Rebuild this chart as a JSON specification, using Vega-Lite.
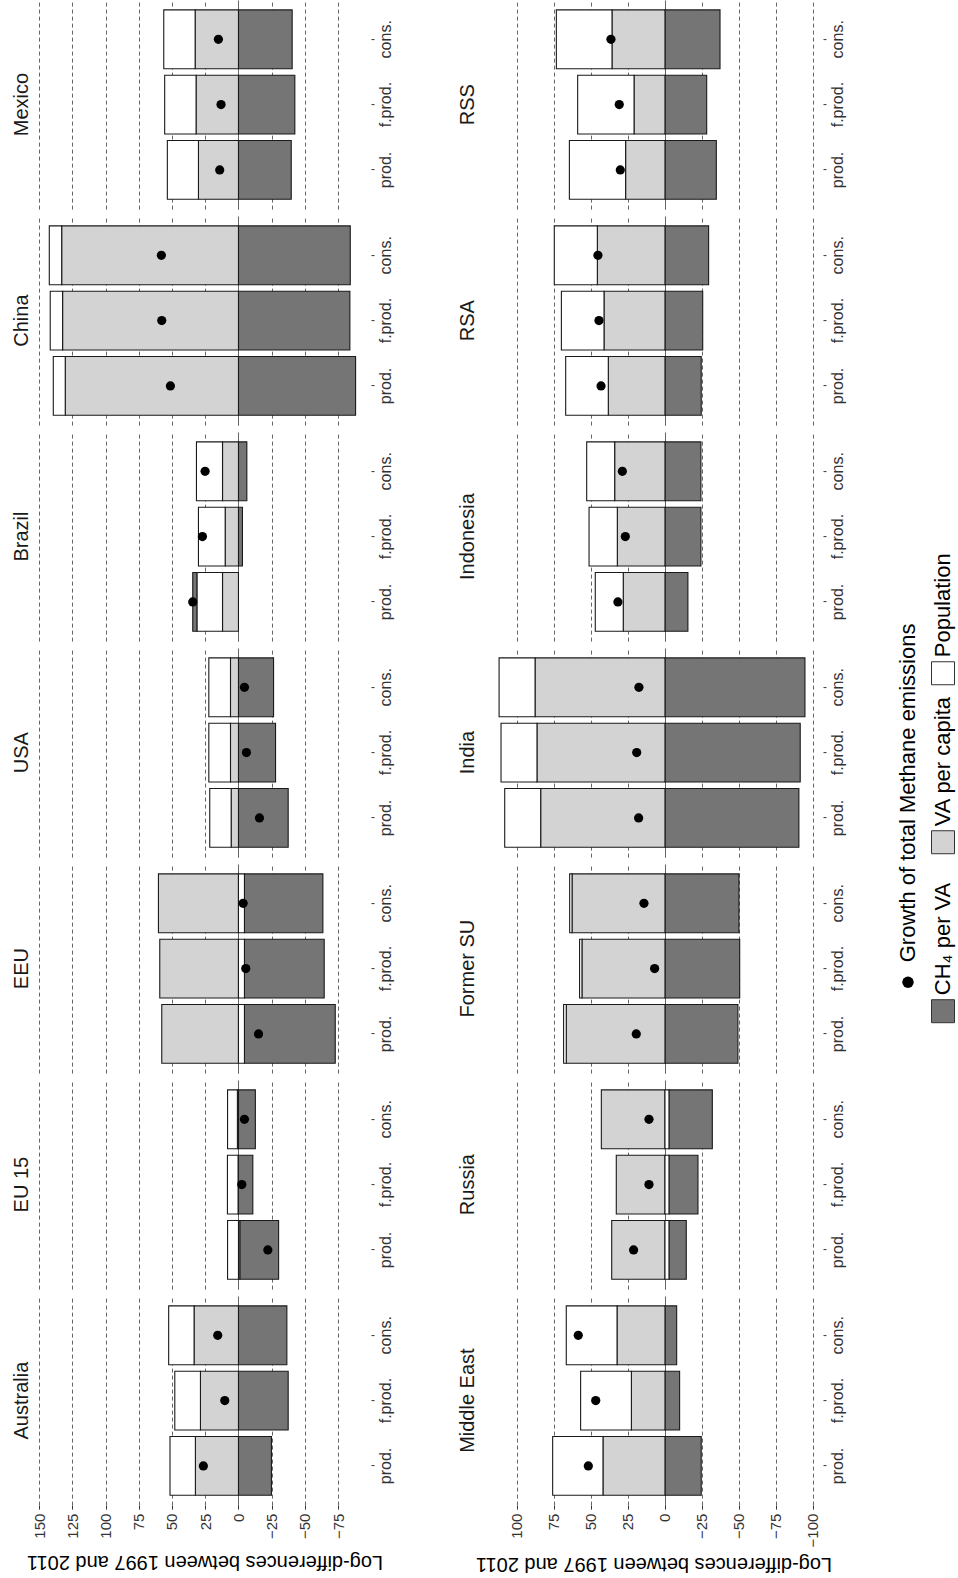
{
  "$schema": "https://vega.github.io/schema/vega-lite/v6.json",
  "background": "white",
  "padding": {"left": 11, "top": 0, "right": 0, "bottom": 3},
  "config": {
    "font": "Liberation Sans",
    "view": {"stroke": null},
    "axis": {"domain": false, "labelColor": "#333333", "tickColor": "#333333", "titleColor": "#000000", "titleFontWeight": "normal", "labelOverlap": false}
  },
  "datasets": {
    "top": [
      {"region": "Mexico", "measure": "prod.", "ch4": -39.7, "vacap": 30.1, "pop": 23.4, "growth": 14.1},
      {"region": "Mexico", "measure": "f.prod.", "ch4": -42.4, "vacap": 31.9, "pop": 23.6, "growth": 13.1},
      {"region": "Mexico", "measure": "cons.", "ch4": -40.4, "vacap": 32.6, "pop": 23.6, "growth": 15.1},
      {"region": "China", "measure": "prod.", "ch4": -88.1, "vacap": 130.3, "pop": 9.0, "growth": 51.2},
      {"region": "China", "measure": "f.prod.", "ch4": -83.8, "vacap": 132.3, "pop": 9.3, "growth": 57.7},
      {"region": "China", "measure": "cons.", "ch4": -84.1, "vacap": 133.0, "pop": 9.3, "growth": 58.0},
      {"region": "Brazil", "measure": "prod.", "ch4": 3.3, "vacap": 12.0, "pop": 19.1, "growth": 34.4},
      {"region": "Brazil", "measure": "f.prod.", "ch4": -3.0, "vacap": 10.0, "pop": 20.1, "growth": 27.1},
      {"region": "Brazil", "measure": "cons.", "ch4": -6.3, "vacap": 12.0, "pop": 19.6, "growth": 25.1},
      {"region": "USA", "measure": "prod.", "ch4": -37.4, "vacap": 5.5, "pop": 16.1, "growth": -15.8},
      {"region": "USA", "measure": "f.prod.", "ch4": -27.9, "vacap": 6.0, "pop": 16.3, "growth": -6.0},
      {"region": "USA", "measure": "cons.", "ch4": -26.4, "vacap": 6.0, "pop": 16.3, "growth": -4.5},
      {"region": "EEU", "measure": "prod.", "ch4": -68.3, "vacap": 57.7, "pop": -4.5, "growth": -15.1},
      {"region": "EEU", "measure": "f.prod.", "ch4": -60.0, "vacap": 59.2, "pop": -4.5, "growth": -5.5},
      {"region": "EEU", "measure": "cons.", "ch4": -59.0, "vacap": 60.2, "pop": -4.5, "growth": -3.5},
      {"region": "EU 15", "measure": "prod.", "ch4": -29.2, "vacap": -1.0, "pop": 8.2, "growth": -22.1},
      {"region": "EU 15", "measure": "f.prod.", "ch4": -10.8, "vacap": 0.3, "pop": 8.0, "growth": -2.5},
      {"region": "EU 15", "measure": "cons.", "ch4": -12.7, "vacap": 0.8, "pop": 7.4, "growth": -4.5},
      {"region": "Australia", "measure": "prod.", "ch4": -24.8, "vacap": 32.4, "pop": 19.1, "growth": 26.4},
      {"region": "Australia", "measure": "f.prod.", "ch4": -37.4, "vacap": 28.6, "pop": 19.3, "growth": 10.3},
      {"region": "Australia", "measure": "cons.", "ch4": -36.4, "vacap": 33.4, "pop": 19.1, "growth": 15.6}
    ],
    "bottom": [
      {"region": "RSS", "measure": "prod.", "ch4": -34.7, "vacap": 26.6, "pop": 38.0, "growth": 30.2},
      {"region": "RSS", "measure": "f.prod.", "ch4": -28.2, "vacap": 20.9, "pop": 38.1, "growth": 30.9},
      {"region": "RSS", "measure": "cons.", "ch4": -37.2, "vacap": 35.8, "pop": 37.6, "growth": 36.5},
      {"region": "RSA", "measure": "prod.", "ch4": -24.5, "vacap": 38.3, "pop": 28.8, "growth": 43.2},
      {"region": "RSA", "measure": "f.prod.", "ch4": -25.5, "vacap": 41.2, "pop": 28.8, "growth": 44.6},
      {"region": "RSA", "measure": "cons.", "ch4": -29.5, "vacap": 45.7, "pop": 29.1, "growth": 45.3},
      {"region": "Indonesia", "measure": "prod.", "ch4": -15.5, "vacap": 28.2, "pop": 18.9, "growth": 31.8},
      {"region": "Indonesia", "measure": "f.prod.", "ch4": -24.3, "vacap": 32.2, "pop": 19.1, "growth": 26.8},
      {"region": "Indonesia", "measure": "cons.", "ch4": -24.3, "vacap": 34.0, "pop": 18.9, "growth": 28.8},
      {"region": "India", "measure": "prod.", "ch4": -90.5, "vacap": 84.0, "pop": 24.3, "growth": 17.8},
      {"region": "India", "measure": "f.prod.", "ch4": -91.4, "vacap": 86.5, "pop": 24.3, "growth": 19.1},
      {"region": "India", "measure": "cons.", "ch4": -94.6, "vacap": 87.8, "pop": 24.3, "growth": 17.6},
      {"region": "Former SU", "measure": "prod.", "ch4": -49.3, "vacap": 66.7, "pop": 1.8, "growth": 19.4},
      {"region": "Former SU", "measure": "f.prod.", "ch4": -50.5, "vacap": 56.1, "pop": 1.6, "growth": 7.0},
      {"region": "Former SU", "measure": "cons.", "ch4": -50.0, "vacap": 62.8, "pop": 1.6, "growth": 14.2},
      {"region": "Russia", "measure": "prod.", "ch4": -11.7, "vacap": 36.0, "pop": -2.7, "growth": 21.2},
      {"region": "Russia", "measure": "f.prod.", "ch4": -19.6, "vacap": 32.9, "pop": -2.7, "growth": 10.8},
      {"region": "Russia", "measure": "cons.", "ch4": -29.3, "vacap": 43.0, "pop": -2.7, "growth": 10.8},
      {"region": "Middle East", "measure": "prod.", "ch4": -24.5, "vacap": 41.9, "pop": 34.0, "growth": 51.8},
      {"region": "Middle East", "measure": "f.prod.", "ch4": -9.9, "vacap": 22.7, "pop": 34.3, "growth": 46.8},
      {"region": "Middle East", "measure": "cons.", "ch4": -7.9, "vacap": 32.4, "pop": 34.3, "growth": 58.6}
    ],
    "legend": [
      {"line": "1", "component": "growth", "label": "Growth of total Methane emissions"},
      {"line": "2", "component": "ch4", "label": "CH₄ per VA"},
      {"line": "2", "component": "vacap", "label": "VA per capita"},
      {"line": "2", "component": "pop", "label": "Population"}
    ]
  },
  "spacing": 49,
  "center": true,
  "hconcat": [
    {
      "spacing": 64,
      "hconcat": [
        {
          "data": {"name": "top"},
          "facet": {
            "row": {
              "field": "region", "type": "nominal",
              "sort": ["Mexico", "China", "Brazil", "USA", "EEU", "EU 15", "Australia"],
              "title": null,
              "header": {"labelAngle": 270, "labelOrient": "left", "labelFontSize": 20, "labelPadding": -14, "labelColor": "#1a1a1a"}
            }
          },
          "spacing": {"row": 7},
          "spec": {
            "width": 333,
            "height": 209,
            "encoding": {
              "x": {
                "field": "value", "type": "quantitative",
                "scale": {"domain": [-99.7, 150.8], "reverse": true, "nice": false, "zero": false},
                "axis": {
                  "values": [-75, -50, -25, 0, 25, 50, 75, 100, 125, 150],
                  "title": "Log-differences between 1997 and 2011",
                  "labelAngle": 270, "labelAlign": "right", "labelBaseline": "middle",
                  "labelFontSize": 15, "labelPadding": 4, "tickSize": 4,
                  "grid": true,
                  "gridDash": {"condition": {"test": "datum.value === 0", "value": [1, 0]}, "value": [4, 3]},
                  "gridColor": {"condition": {"test": "datum.value === 0", "value": "#333333"}, "value": "#666666"},
                  "titleAngle": 180, "titleBaseline": "bottom", "titleFontSize": 20, "titlePadding": 13
                }
              },
              "y": {
                "field": "measure", "type": "nominal",
                "sort": ["cons.", "f.prod.", "prod."],
                "scale": {"paddingInner": 0.1, "paddingOuter": 0.15},
                "axis": {"orient": "right", "title": null, "labelAngle": 270, "labelAlign": "center", "labelBaseline": "top", "labelFontSize": 16, "labelPadding": 3, "tickSize": 3, "grid": false}
              }
            },
            "layer": [
              {
                "transform": [{"fold": ["ch4", "vacap", "pop"], "as": ["component", "value"]}],
                "mark": {"type": "bar", "stroke": "#1a1a1a", "strokeWidth": 1.1},
                "encoding": {
                  "fill": {"field": "component", "type": "nominal", "scale": {"domain": ["ch4", "vacap", "pop", "growth"], "range": ["#757575", "#d3d3d3", "#ffffff", "#000000"]}, "legend": null},
                  "order": {"field": "component", "sort": "descending"}
                }
              },
              {
                "transform": [{"fold": ["growth"], "as": ["component", "value"]}],
                "mark": {"type": "circle", "color": "#000000", "size": 85, "opacity": 1},
                "encoding": {}
              }
            ]
          }
        },
        {
          "data": {"name": "bottom"},
          "facet": {
            "row": {
              "field": "region", "type": "nominal",
              "sort": ["RSS", "RSA", "Indonesia", "India", "Former SU", "Russia", "Middle East"],
              "title": null,
              "header": {"labelAngle": 270, "labelOrient": "left", "labelFontSize": 20, "labelPadding": -14, "labelColor": "#1a1a1a"}
            }
          },
          "spacing": {"row": 7},
          "spec": {
            "width": 339,
            "height": 209,
            "encoding": {
              "x": {
                "field": "value", "type": "quantitative",
                "scale": {"domain": [-106.8, 122.3], "reverse": true, "nice": false, "zero": false},
                "axis": {
                  "values": [-100, -75, -50, -25, 0, 25, 50, 75, 100],
                  "title": "Log-differences between 1997 and 2011",
                  "labelAngle": 270, "labelAlign": "right", "labelBaseline": "middle",
                  "labelFontSize": 15, "labelPadding": 4, "tickSize": 4,
                  "grid": true,
                  "gridDash": {"condition": {"test": "datum.value === 0", "value": [1, 0]}, "value": [4, 3]},
                  "gridColor": {"condition": {"test": "datum.value === 0", "value": "#333333"}, "value": "#666666"},
                  "titleAngle": 180, "titleBaseline": "bottom", "titleFontSize": 20, "titlePadding": 7
                }
              },
              "y": {
                "field": "measure", "type": "nominal",
                "sort": ["cons.", "f.prod.", "prod."],
                "scale": {"paddingInner": 0.1, "paddingOuter": 0.15},
                "axis": {"orient": "right", "title": null, "labelAngle": 270, "labelAlign": "center", "labelBaseline": "top", "labelFontSize": 16, "labelPadding": 3, "tickSize": 3, "grid": false}
              }
            },
            "layer": [
              {
                "transform": [{"fold": ["ch4", "vacap", "pop"], "as": ["component", "value"]}],
                "mark": {"type": "bar", "stroke": "#1a1a1a", "strokeWidth": 1.1},
                "encoding": {
                  "fill": {"field": "component", "type": "nominal", "scale": {"domain": ["ch4", "vacap", "pop", "growth"], "range": ["#757575", "#d3d3d3", "#ffffff", "#000000"]}, "legend": null},
                  "order": {"field": "component", "sort": "descending"}
                }
              },
              {
                "transform": [{"fold": ["growth"], "as": ["component", "value"]}],
                "mark": {"type": "circle", "color": "#000000", "size": 85, "opacity": 1},
                "encoding": {}
              }
            ]
          }
        }
      ]
    },
    {
      "data": {"name": "legend"},
      "width": 63,
      "height": 473,
      "encoding": {
        "x": {"field": "line", "type": "nominal", "scale": {"type": "point", "domain": ["1", "2"], "padding": 0.4}, "axis": null}
      },
      "layer": [
        {
          "transform": [{"filter": "datum.line === '1'"}],
          "mark": {"type": "circle", "color": "#000000", "size": 130, "opacity": 1},
          "encoding": {
            "y": {"field": "label", "type": "nominal", "scale": {"type": "point", "domain": ["Growth of total Methane emissions"], "padding": 0.5, "align": 0.9154}, "axis": null}
          }
        },
        {
          "transform": [{"filter": "datum.line === '1'"}],
          "mark": {"type": "text", "angle": 270, "align": "left", "baseline": "middle", "dx": 20, "fontSize": 22, "color": "#000000"},
          "encoding": {
            "y": {"field": "label", "type": "nominal", "scale": {"type": "point", "domain": ["Growth of total Methane emissions"], "padding": 0.5, "align": 0.9154}, "axis": null},
            "text": {"field": "label"}
          }
        },
        {
          "transform": [{"filter": "datum.line === '2'"}],
          "mark": {"type": "point", "shape": "square", "filled": true, "size": 529, "stroke": "#333333", "strokeWidth": 1, "opacity": 1},
          "encoding": {
            "y": {"field": "label", "type": "nominal", "scale": {"type": "point", "domain": ["Population", "VA per capita", "CH₄ per VA"], "padding": 0.3996, "align": 0.918}, "axis": null},
            "fill": {"field": "component", "type": "nominal", "scale": {"domain": ["ch4", "vacap", "pop", "growth"], "range": ["#757575", "#d3d3d3", "#ffffff", "#000000"]}, "legend": null}
          }
        },
        {
          "transform": [{"filter": "datum.line === '2'"}],
          "mark": {"type": "text", "angle": 270, "align": "left", "baseline": "middle", "dx": 16, "fontSize": 22, "color": "#000000"},
          "encoding": {
            "y": {"field": "label", "type": "nominal", "scale": {"type": "point", "domain": ["Population", "VA per capita", "CH₄ per VA"], "padding": 0.3996, "align": 0.918}, "axis": null},
            "text": {"field": "label"}
          }
        }
      ],
      "resolve": {"scale": {"y": "independent"}}
    }
  ]
}
